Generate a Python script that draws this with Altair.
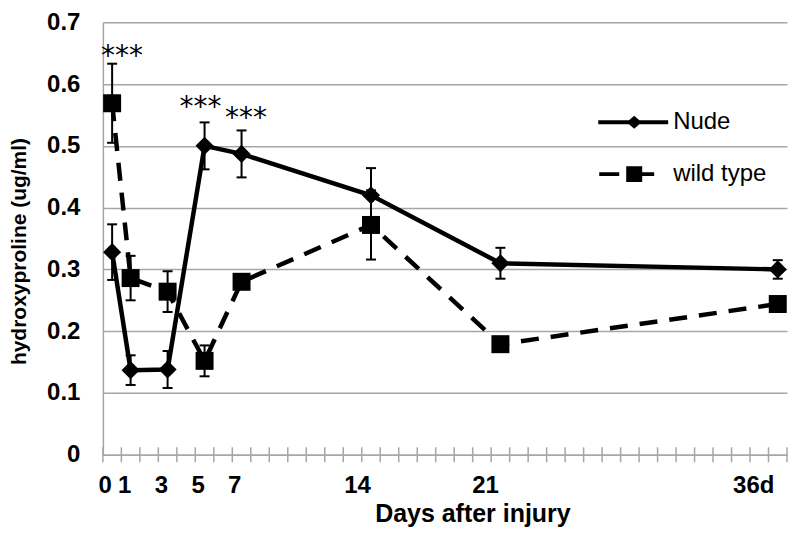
import altair as alt
import pandas as pd

# ---- data ----
days = [0, 1, 3, 5, 7, 14, 21, 36]
nude_mean = [0.328, 0.137, 0.138, 0.500, 0.487, 0.420, 0.310, 0.300]
nude_err = [0.045, 0.024, 0.030, 0.038, 0.038, 0.044, 0.025, 0.015]
wt_mean = [0.569, 0.286, 0.264, 0.152, 0.280, 0.372, 0.179, 0.244]
wt_err = [0.064, 0.036, 0.033, 0.025, 0.010, 0.056, 0.008, 0.008]
series_names = ["Nude", "wild type"]

# category axis: 37 day slots (0..36), ticks on slot borders
x_tick_slots = list(range(0, 38))
x_label_text = ["0", "1", "3", "5", "7", "14", "21", "36d"]
x_label_pos = [0.12, 1.18, 3.17, 5.15, 7.13, 13.77, 20.7, 35.2]

y_tick_values = [0, 0.1, 0.2, 0.3, 0.4, 0.5, 0.6, 0.7]

star_text = ["***", "***", "***"]
star_x = [1.03, 5.28, 7.74]
star_y = [0.6575, 0.574, 0.556]

# ---- tables ----
rows = []
for name, means, errs in [("Nude", nude_mean, nude_err), ("wild type", wt_mean, wt_err)]:
    for d, m, e in zip(days, means, errs):
        rows.append({"series": name, "day": d, "mean": m, "err": e})
df = pd.DataFrame(rows)
ticks_df = pd.DataFrame({"slot": x_tick_slots, "zero": [0] * len(x_tick_slots)})
xlab_df = pd.DataFrame({"pos": x_label_pos, "text": x_label_text, "zero": [0] * len(x_label_text)})
star_df = pd.DataFrame({"x": star_x, "y": star_y, "text": star_text})

FONT = "Liberation Sans"
GRID = "#a6a6a6"

xscale = alt.Scale(domain=[0, 37], nice=False, zero=False)
yscale = alt.Scale(domain=[0, 0.7], nice=False)

xaxis = alt.Axis(
    labels=False, ticks=False, grid=False, domain=True,
    domainColor=GRID, domainWidth=1.5,
    title="Days after injury", titleFont=FONT, titleFontSize=25,
    titleFontWeight="bold", titleColor="black",
    titleX=370, titleY=67, titleAlign="center", titleBaseline="alphabetic",
)
yaxis = alt.Axis(
    values=y_tick_values, format=".1~f",
    labelFont=FONT, labelFontSize=24, labelFontWeight="bold", labelColor="black",
    labelPadding=23, ticks=False, domain=True, domainColor=GRID, domainWidth=1.5,
    grid=True, gridColor=GRID, gridWidth=1.5,
    title="hydroxyproline (ug/ml)", titleFont=FONT, titleFontSize=21,
    titleFontWeight="bold", titleColor="black",
    titleX=-83, titleY=229, titleAngle=270, titleAlign="center", titleBaseline="middle",
)


def X(field):
    return alt.X(field, type="quantitative", scale=xscale, axis=xaxis)


def Y(field):
    return alt.Y(field, type="quantitative", scale=yscale, axis=yaxis)


base = alt.Chart(df).transform_calculate(
    xpos="datum.day + 0.5",
    lo="datum.mean - datum.err",
    hi="datum.mean + datum.err",
)

nude_f = "datum.series == 'Nude'"
wt_f = "datum.series == 'wild type'"

line_nude = base.transform_filter(nude_f).mark_line(color="black", strokeWidth=4.5).encode(
    x=X("xpos"), y=Y("mean"))
line_wt = base.transform_filter(wt_f).mark_line(
    color="black", strokeWidth=4.5, strokeDash=[18, 12]).encode(x=X("xpos"), y=Y("mean"))

err_rule = base.mark_rule(color="black", strokeWidth=2).encode(
    x=X("xpos"), y=Y("lo"), y2="hi:Q")
err_lo = base.mark_tick(color="black", thickness=2, size=10, orient="horizontal", opacity=1).encode(
    x=X("xpos"), y=Y("lo"))
err_hi = base.mark_tick(color="black", thickness=2, size=10, orient="horizontal", opacity=1).encode(
    x=X("xpos"), y=Y("hi"))

pts_nude = base.transform_filter(nude_f).mark_point(
    shape="diamond", filled=True, size=330, color="black", opacity=1).encode(x=X("xpos"), y=Y("mean"))
pts_wt = base.transform_filter(wt_f).mark_point(
    shape="square", filled=True, size=324, color="black", opacity=1).encode(x=X("xpos"), y=Y("mean"))

# legend symbols: line segments (thin rectangles) + marker, all filled, as one custom path
path_nude = ("M-3.6,-0.2L3.4,-0.2L3.4,0.2L-3.6,0.2Z"
             "M-0.75,0L0,-0.65L0.75,0L0,0.65Z")
path_wt = ("M-3.5,-0.2L-1.5,-0.2L-1.5,0.2L-3.5,0.2Z"
           "M-0.8,-0.8L0.8,-0.8L0.8,0.8L-0.8,0.8Z"
           "M0.8,-0.2L2,-0.2L2,0.2L0.8,0.2Z")

legend_layer = base.transform_filter("datum.day < 0").mark_point(
    filled=True, color="black", opacity=1).encode(
    x=X("xpos"), y=Y("mean"),
    shape=alt.Shape(
        "series:N",
        scale=alt.Scale(domain=series_names, range=[path_nude, path_wt]),
        legend=alt.Legend(
            orient="none", legendX=520, legendY=88, title=None,
            symbolSize=400, symbolFillColor="black", symbolStrokeColor="black",
            symbolStrokeWidth=0, symbolOpacity=1,
            labelFont=FONT, labelFontSize=24, labelColor="black",
            labelOffset=27, rowPadding=28, padding=0,
        ),
    ),
)

ticks = alt.Chart(ticks_df).mark_tick(
    orient="vertical", size=15, thickness=1.5, color=GRID, opacity=1).encode(
    x=X("slot"), y=Y("zero"))

xlabels = alt.Chart(xlab_df).mark_text(
    font=FONT, fontSize=24, fontWeight="bold", color="black",
    baseline="alphabetic", align="center", dy=38).encode(
    x=X("pos"), y=Y("zero"), text="text:N")

stars = alt.Chart(star_df).mark_text(
    font="DejaVu Sans", fontSize=28, color="black",
    baseline="alphabetic", align="center", dy=16).encode(
    x=X("x"), y=Y("y"), text="text:N")

chart = alt.layer(
    ticks, line_wt, line_nude, err_rule, err_lo, err_hi, pts_wt, pts_nude,
    legend_layer, xlabels, stars,
).properties(
    width=685, height=433,
    autosize=alt.AutoSizeParams(type="none"),
    padding={"left": 95, "top": 14, "right": 5, "bottom": 78},
    background="white",
).configure_view(stroke=None)

chart.save("out.html", embed_options={"renderer": "svg", "actions": False})
